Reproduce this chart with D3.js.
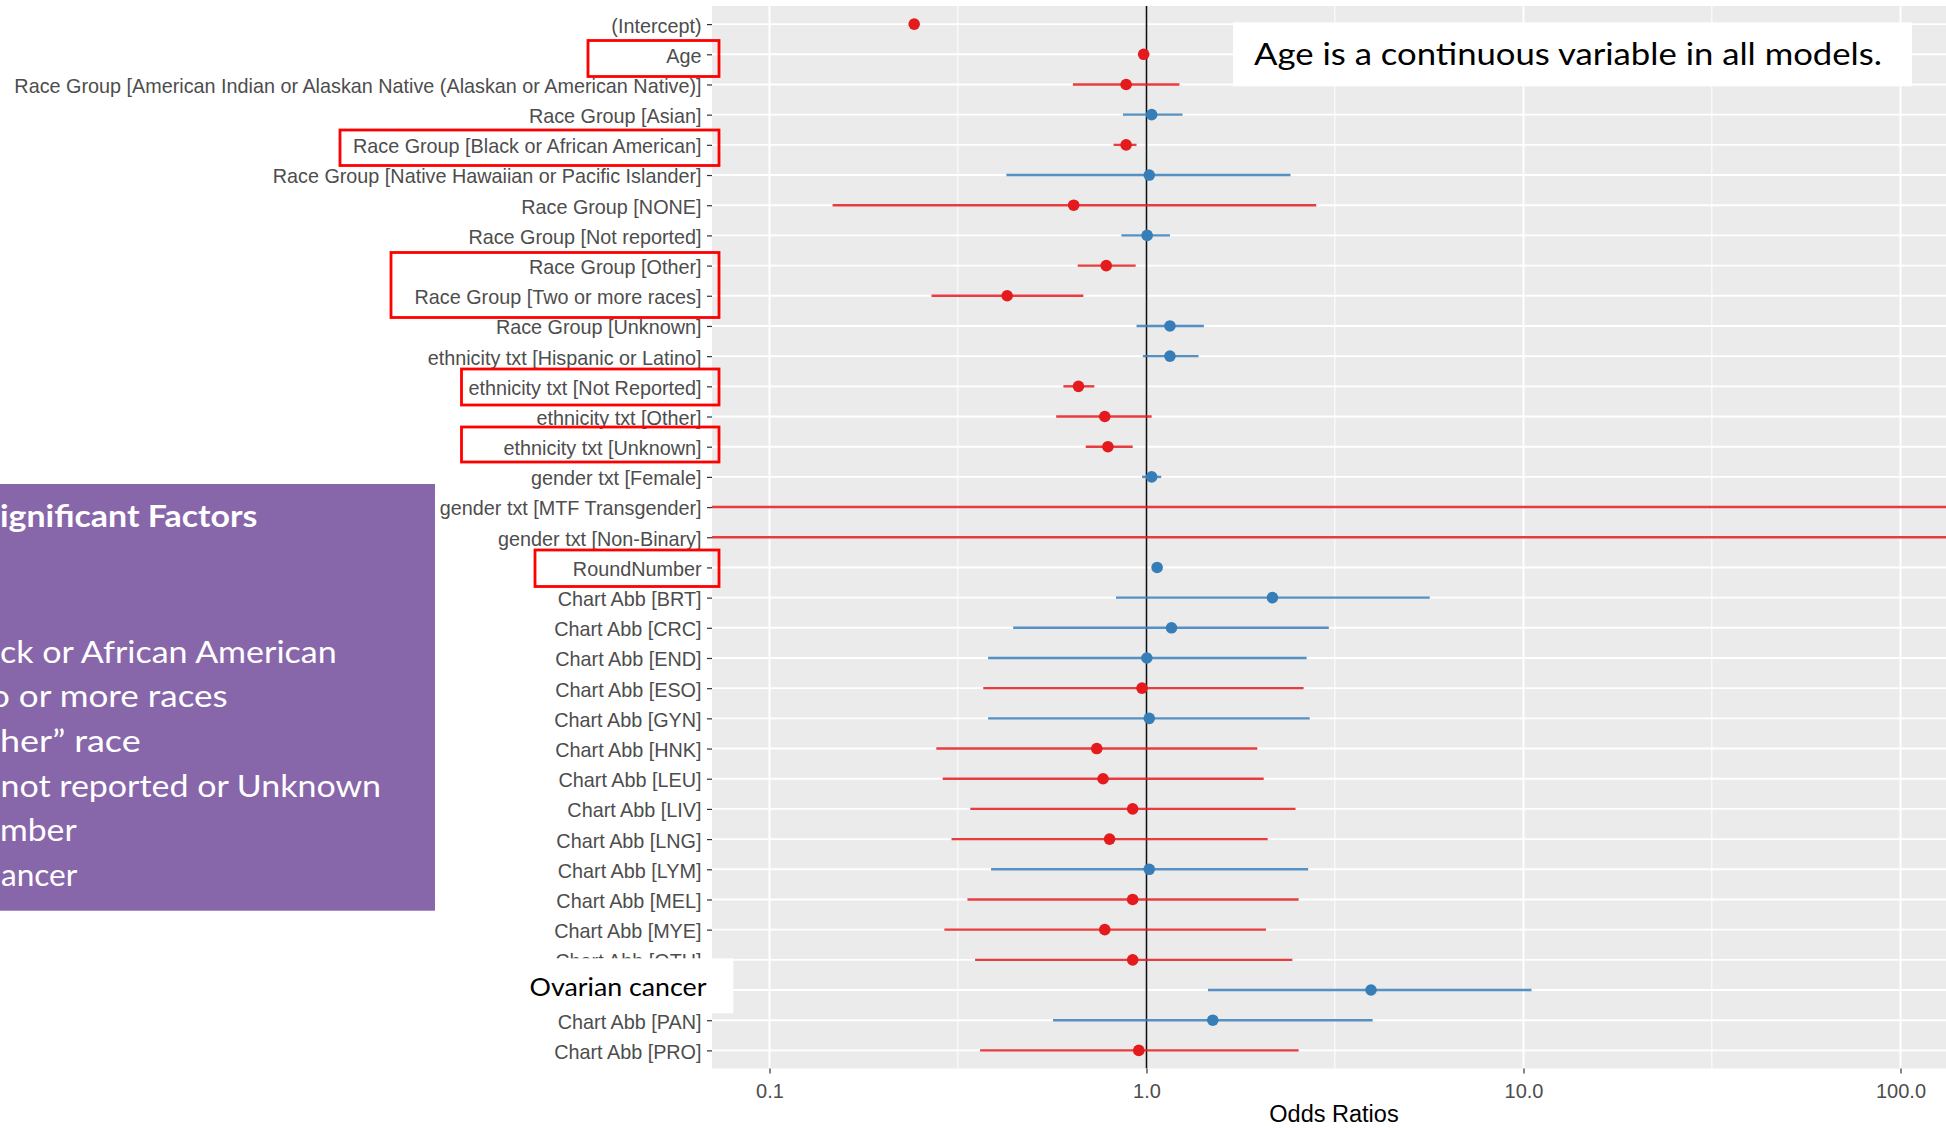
<!DOCTYPE html>
<html><head><meta charset="utf-8">
<script src="https://cdn.jsdelivr.net/npm/d3@7"></script>
<style>
html,body{margin:0;padding:0;background:#fff;overflow:hidden}
svg{display:block}
</style></head>
<body><svg id="chart" width="1946" height="1128"></svg>
<script>
// ---------------- data ----------------
const categories = [
  "(Intercept)", "Age",
  "Race Group [American Indian or Alaskan Native (Alaskan or American Native)]",
  "Race Group [Asian]", "Race Group [Black or African American]",
  "Race Group [Native Hawaiian or Pacific Islander]", "Race Group [NONE]",
  "Race Group [Not reported]", "Race Group [Other]", "Race Group [Two or more races]",
  "Race Group [Unknown]", "ethnicity txt [Hispanic or Latino]", "ethnicity txt [Not Reported]",
  "ethnicity txt [Other]", "ethnicity txt [Unknown]", "gender txt [Female]",
  "gender txt [MTF Transgender]", "gender txt [Non-Binary]", "RoundNumber",
  "Chart Abb [BRT]", "Chart Abb [CRC]", "Chart Abb [END]", "Chart Abb [ESO]",
  "Chart Abb [GYN]", "Chart Abb [HNK]", "Chart Abb [LEU]", "Chart Abb [LIV]",
  "Chart Abb [LNG]", "Chart Abb [LYM]", "Chart Abb [MEL]", "Chart Abb [MYE]",
  "Chart Abb [OTH]", "Chart Abb [OVA]", "Chart Abb [PAN]", "Chart Abb [PRO]"
];
const estimates = [0.242, 0.983, 0.883, 1.032, 0.883, 1.017, 0.641, 1.004, 0.782, 0.427,
  1.154, 1.154, 0.660, 0.775, 0.790, 1.032, 0.000001, 0.000001, 1.067, 2.158,
  1.165, 1.002, 0.973, 1.017, 0.738, 0.767, 0.919, 0.798, 1.017, 0.919,
  0.775, 0.919, 3.94, 1.499, 0.954];
const ciLow = [0.236, 0.979, 0.638, 0.866, 0.818, 0.425, 0.147, 0.858, 0.657, 0.269,
  0.941, 0.978, 0.602, 0.576, 0.690, 0.973, 1e-9, 1e-9, 1.058, 0.830,
  0.443, 0.380, 0.369, 0.380, 0.277, 0.288, 0.341, 0.304, 0.387, 0.335,
  0.291, 0.351, 1.456, 0.565, 0.362];
const ciHigh = [0.248, 0.987, 1.223, 1.246, 0.941, 2.41, 2.82, 1.154, 0.936, 0.680,
  1.42, 1.374, 0.727, 1.032, 0.919, 1.094, 1e6, 1e6, 1.076, 5.64,
  3.045, 2.66, 2.61, 2.71, 1.967, 2.046, 2.485, 2.096, 2.685, 2.532,
  2.075, 2.437, 10.5, 3.98, 2.532];
const xTickValues = [0.1, 1, 10, 100];
const xTickLabels = ["0.1", "1.0", "10.0", "100.0"];
const xMinorValues = [0.0316, 0.316, 3.16, 31.6, 316];
const xTitle = "Odds Ratios";
// label hidden in the reference under the "Ovarian cancer" note
const hiddenLabels = ["Chart Abb [OVA]"];

const noteAge = "Age is a continuous variable in all models.";
const noteOvarian = "Ovarian cancer";
const factorsTitle = "ignificant Factors";
const factorsLines = ["ck or African American", "o or more races", "her\u201D race",
  "not reported or Unknown", "mber", "ancer"];

// ---------------- layout ----------------
const W = 1946, H = 1128;
const P = {left: 712, right: 1956, top: 6, bottom: 1068.5};
const RED = "#E41A1C", BLUE = "#377EB8";
const axisFont = "'Liberation Sans', Arial, sans-serif";
const slideFont = "Lato, 'Open Sans', sans-serif";

const svg = d3.select("#chart");
const x = d3.scaleLog()
  .domain([Math.pow(10, -1.1525), Math.pow(10, 2.1472)])
  .range([P.left, P.right]);
const y = d3.scalePoint().domain(categories).range([P.top, P.bottom]).padding(0.6);

svg.append("defs").append("clipPath").attr("id", "pclip")
  .append("rect").attr("x", P.left).attr("y", P.top)
  .attr("width", P.right - P.left).attr("height", P.bottom - P.top);

// panel
svg.append("rect").attr("x", P.left).attr("y", P.top)
  .attr("width", P.right - P.left).attr("height", P.bottom - P.top).attr("fill", "#EBEBEB");

const grid = svg.append("g").attr("clip-path", "url(#pclip)");
grid.selectAll("line.minor").data(xMinorValues).join("line").attr("class", "minor")
  .attr("x1", d => x(d)).attr("x2", d => x(d)).attr("y1", P.top).attr("y2", P.bottom)
  .attr("stroke", "#fff").attr("stroke-width", 1);
grid.selectAll("line.vmajor").data(xTickValues).join("line").attr("class", "vmajor")
  .attr("x1", d => x(d)).attr("x2", d => x(d)).attr("y1", P.top).attr("y2", P.bottom)
  .attr("stroke", "#fff").attr("stroke-width", 1.9);
grid.selectAll("line.hmajor").data(categories).join("line").attr("class", "hmajor")
  .attr("x1", P.left).attr("x2", P.right).attr("y1", d => y(d)).attr("y2", d => y(d))
  .attr("stroke", "#fff").attr("stroke-width", 1.9);

// reference line at OR = 1
grid.append("line").attr("x1", x(1)).attr("x2", x(1)).attr("y1", P.top).attr("y2", P.bottom)
  .attr("stroke", "#111").attr("stroke-width", 1.6);

const rows = categories.map((c, i) => ({c, est: estimates[i], lo: ciLow[i], hi: ciHigh[i]}));
const col = d => d.est > 1 ? BLUE : RED;

const marks = svg.append("g").attr("clip-path", "url(#pclip)");
marks.selectAll("line.ci").data(rows).join("line").attr("class", "ci")
  .attr("x1", d => x(d.lo)).attr("x2", d => x(d.hi))
  .attr("y1", d => y(d.c)).attr("y2", d => y(d.c))
  .attr("stroke", col).attr("stroke-opacity", 0.85).attr("stroke-width", 2.4);
marks.selectAll("circle").data(rows).join("circle")
  .attr("cx", d => x(d.est)).attr("cy", d => y(d.c)).attr("r", 5.8)
  .attr("fill", col);

// axes
const yAxis = svg.append("g").attr("transform", `translate(${P.left},0)`)
  .call(d3.axisLeft(y).tickSize(5).tickPadding(5.5));
yAxis.select(".domain").remove();
yAxis.selectAll(".tick line").attr("stroke", "#333").attr("stroke-width", 1.2);
yAxis.selectAll(".tick text").attr("fill", "#4D4D4D").attr("dy", "0.4em")
  .style("font-family", axisFont).style("font-size", "19.8px");
yAxis.selectAll(".tick text").filter(d => hiddenLabels.includes(d)).remove();

const xAxis = svg.append("g").attr("transform", `translate(0,${P.bottom})`)
  .call(d3.axisBottom(x).tickValues(xTickValues).tickFormat((d, i) => xTickLabels[i])
    .tickSize(5).tickPadding(10));
xAxis.select(".domain").remove();
xAxis.selectAll(".tick line").attr("stroke", "#333").attr("stroke-width", 1.2);
xAxis.selectAll(".tick text").attr("fill", "#4D4D4D")
  .style("font-family", axisFont).style("font-size", "20px");

svg.append("text").attr("x", (P.left + P.right) / 2).attr("y", 1121.5)
  .attr("text-anchor", "middle").attr("fill", "#000")
  .style("font-family", axisFont).style("font-size", "23.5px").text(xTitle);

// ---------------- slide annotations ----------------
// red highlight boxes
const hiBoxes = [
  [588, 40.5, 719, 76.5], [340, 130, 719, 165.5], [391, 252.5, 719, 317.5],
  [461.5, 369, 719, 405], [461.5, 427, 719, 462], [535, 550, 719, 586.5]
];
svg.selectAll("rect.hl").data(hiBoxes).join("rect").attr("class", "hl")
  .attr("x", d => d[0]).attr("y", d => d[1])
  .attr("width", d => d[2] - d[0]).attr("height", d => d[3] - d[1])
  .attr("fill", "none").attr("stroke", "#FF0000").attr("stroke-width", 2.8);

// Age note
svg.append("rect").attr("x", 1233).attr("y", 22.3).attr("width", 679).attr("height", 64)
  .attr("fill", "#fff");
svg.append("text").attr("x", 1254).attr("y", 65).attr("fill", "#000")
  .attr("textLength", 628).attr("lengthAdjust", "spacingAndGlyphs")
  .style("font-family", slideFont).style("font-size", "31px").text(noteAge);

// Ovarian note
svg.append("rect").attr("x", 505).attr("y", 958.3).attr("width", 228.3).attr("height", 55)
  .attr("fill", "#fff");
svg.append("text").attr("x", 529.5).attr("y", 995.5).attr("fill", "#000")
  .attr("textLength", 177).attr("lengthAdjust", "spacingAndGlyphs")
  .style("font-family", slideFont).style("font-size", "24.5px").text(noteOvarian);

// purple factors box
svg.append("rect").attr("x", 0).attr("y", 484).attr("width", 435).attr("height", 426.7)
  .attr("fill", "#8866AA");
svg.append("text").attr("x", 0).attr("y", 526.7).attr("fill", "#fff")
  .attr("textLength", 257.5).attr("lengthAdjust", "spacingAndGlyphs")
  .style("font-family", slideFont).style("font-weight", "bold").style("font-size", "30px")
  .text(factorsTitle);
const lineStarts = [0, -10, 0, 0.5, 0, 1];
const lineEnds = [336.7, 227.7, 140.7, 381, 76.7, 77.3];
svg.selectAll("text.fl").data(factorsLines).join("text").attr("class", "fl")
  .attr("x", (d, i) => lineStarts[i]).attr("y", (d, i) => 662.5 + i * 44.7)
  .attr("textLength", (d, i) => lineEnds[i] - lineStarts[i]).attr("lengthAdjust", "spacingAndGlyphs")
  .attr("fill", "#fff").style("font-family", slideFont).style("font-size", "30px")
  .text(d => d);
</script>
</body></html>
